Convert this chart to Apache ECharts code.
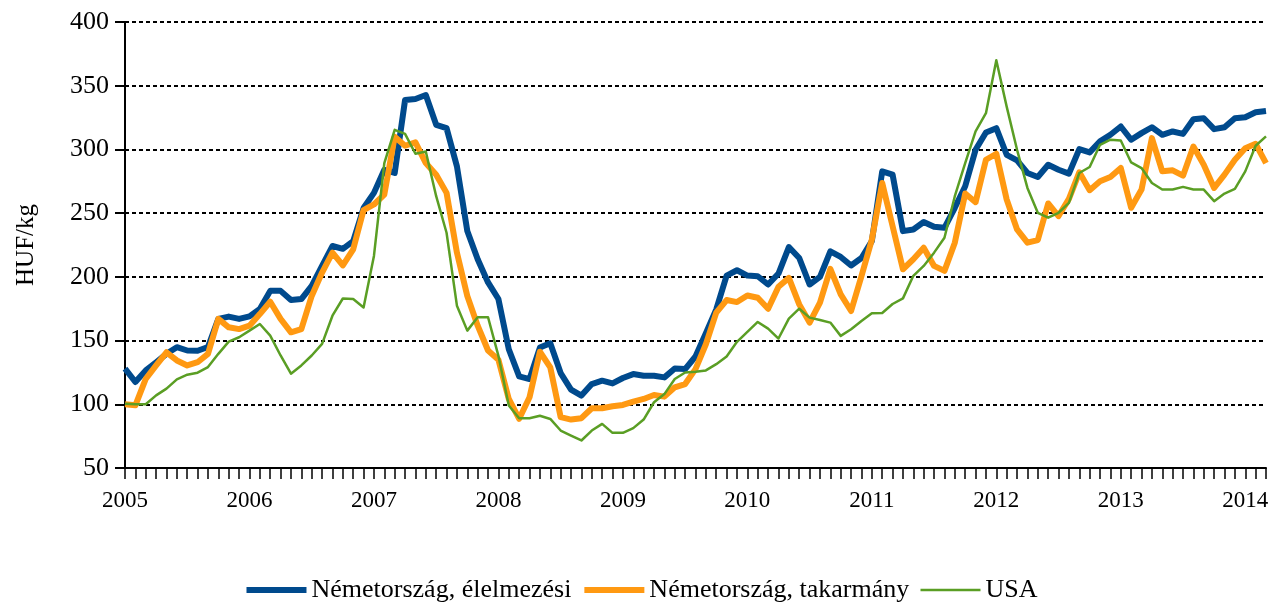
<!DOCTYPE html>
<html>
<head>
<meta charset="utf-8">
<script src="https://cdn.jsdelivr.net/npm/echarts@6/dist/echarts.min.js"></script>
<style>
html,body{margin:0;padding:0;background:#fff;}
#chart{width:1281px;height:603px;}
</style>
</head>
<body>
<div id="chart"></div>
<script>
// Monthly data, Jan 2005 .. Mar 2014
const startYear = 2005;
const monthCount = 111;
const yTicks = [50, 100, 150, 200, 250, 300, 350, 400];
const seriesNames = ['Németország, élelmezési', 'Németország, takarmány', 'USA'];

const germanyFood = [128,117.5,126.6,133,139.6,144.8,142.2,142,145,167,168.8,167,169,174.8,189,189,181.8,182.6,193,208.6,224.2,222,228,254,265.9,284,281.5,338.8,339.6,342.7,319.3,316.7,286.7,236,213.8,195.6,182.6,143.2,121.9,119.8,144.5,147.9,124.5,111.5,106.8,115.9,118.5,116.4,120.6,123.7,122.4,122.4,121.1,128.1,127.6,137.5,155.7,174.5,201,205.2,201,200.5,194,202.6,223.4,214.8,194,200,220,215.6,208.9,214.8,228,282.8,280.2,235.9,237.2,243,239.3,238.5,254.2,271.1,299.7,313.3,316.7,295.8,291.4,281.5,278.4,288,284.1,281,300.3,297.7,306.3,311.5,318,307.6,312.8,317.4,311.5,314.1,312.2,323.7,324.5,315.9,317.4,324.5,325.3,329.2,330.2];

const germanyFeed = [100,99.2,120,130.5,140.8,134.4,130.5,133,139.6,167,160.4,159,161.7,170.8,180.5,167,156.5,159,185,203.4,219,209,221.6,252.4,256.8,264.6,310,302.9,305.5,289.3,280.2,265.9,219,185,161.7,142.2,135,104.2,88.6,105.5,141.2,129,89.9,88,89.1,96.9,96.9,98.4,99.5,102.1,104.2,107.3,106,113.3,115.9,127.6,147.1,171.9,181.8,180.2,185.4,183.6,175,192.2,199.2,178.4,164.1,179.7,206.3,186.2,173.2,200.5,229.2,273.7,239.8,206,213.8,222.9,208.6,204.7,226.8,265.4,258.6,291.9,296.6,260.7,237.2,226.8,228.9,257.6,247.7,261.2,282,268,275,278.4,285.4,254.2,268.5,308.9,282.8,283.6,279.4,302.3,288,269.8,280.2,291.9,301,304.4,289.3];

const usa = [100.5,100,100,107,112.3,119.6,123.2,124.8,129.2,139.6,149.2,152.6,157.8,163,153.9,138.3,124,130.5,138.3,147.4,169.5,183,182.6,176,216.4,289.3,315.4,312.2,296.6,298.4,263.3,234.6,177.4,157.8,168.3,168.3,138,99,89,89,91,88.5,79.4,75.5,71.6,79.4,84.6,77.6,77.6,81.3,88,101.6,108,119.8,125,125.5,126.6,131.5,137.5,149,156.8,164.6,159.4,151.6,167.2,175,168,166.2,164.1,153.7,158.9,165.4,171.4,171.6,178.7,183.1,200.8,208.6,219,230.7,263.3,289.3,314.1,328.4,370,333.6,299.7,269.8,250.3,246.4,250.3,258.1,281.5,286.2,303.6,307.6,307,289.8,285.4,273.7,268.5,268.5,270.6,268.5,268.5,259.4,265.4,269,282.8,302.9,310.2];

const months = [];
for (let i = 0; i < monthCount; i++) {
  const y = startYear + Math.floor(i / 12);
  const m = (i % 12) + 1;
  months.push(y + '-' + (m < 10 ? '0' + m : m));
}

const COLORS = ['#004A8D', '#FF9912', '#5A9E24'];
const WIDTHS = [6, 6, 2.5];

const FONT = '"Liberation Serif", "DejaVu Serif", serif';
const chart = echarts.init(document.getElementById('chart'), null, {renderer: 'canvas'});

chart.setOption({
  animation: false,
  backgroundColor: '#ffffff',
  textStyle: {fontFamily: FONT, color: '#000'},
  grid: {left: 125, right: 15, top: 22, bottom: 135, containLabel: false},
  legend: {
    show: true,
    top: 572,
    left: 'center',
    itemWidth: 60,
    itemHeight: 14,
    itemGap: 10,
    itemStyle: {opacity: 0},
    textStyle: {fontFamily: FONT, fontSize: 26, color: '#000'},
    data: seriesNames.map(function (n, k) {
      return {name: n, lineStyle: {width: WIDTHS[k], color: COLORS[k]}, itemStyle: {opacity: 0}};
    })
  },
  xAxis: {
    type: 'category',
    data: months,
    boundaryGap: false,
    axisLine: {show: true, lineStyle: {color: '#000', width: 2}},
    axisTick: {show: true, interval: 0, length: 11, lineStyle: {color: '#000', width: 1.5}},
    axisLabel: {
      interval: function (idx) { return idx % 12 === 0; },
      formatter: function (v) { return v.slice(0, 4); },
      fontFamily: FONT, fontSize: 23, color: '#000', margin: 21
    },
    splitLine: {show: false}
  },
  yAxis: {
    type: 'value',
    min: yTicks[0],
    max: yTicks[yTicks.length - 1],
    interval: 50,
    name: 'HUF/kg',
    nameLocation: 'middle',
    nameRotate: 90,
    nameGap: 86,
    nameTextStyle: {fontFamily: FONT, fontSize: 25, color: '#000'},
    axisLine: {show: true, lineStyle: {color: '#000', width: 2}},
    axisTick: {show: true, length: 10, lineStyle: {color: '#000', width: 2}},
    axisLabel: {fontFamily: FONT, fontSize: 26, color: '#000', margin: 16},
    splitLine: {show: true, lineStyle: {color: '#000', width: 2, type: [4, 3]}}
  },
  series: [
    {
      name: seriesNames[0], type: 'line', data: germanyFood, symbol: 'none',
      lineStyle: {color: COLORS[0], width: WIDTHS[0], join: 'round'}, itemStyle: {color: COLORS[0]}
    },
    {
      name: seriesNames[1], type: 'line', data: germanyFeed, symbol: 'none',
      lineStyle: {color: COLORS[1], width: WIDTHS[1], join: 'round'}, itemStyle: {color: COLORS[1]}
    },
    {
      name: seriesNames[2], type: 'line', data: usa, symbol: 'none',
      lineStyle: {color: COLORS[2], width: WIDTHS[2], join: 'round'}, itemStyle: {color: COLORS[2]}
    }
  ]
});
</script>
</body>
</html>
